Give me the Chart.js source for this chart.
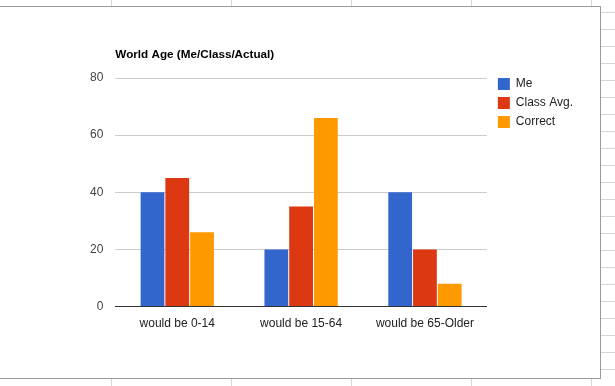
<!DOCTYPE html>
<html lang="en">
<head>
<meta charset="UTF-8">
<title>World Age (Me/Class/Actual)</title>
<script src="https://cdn.jsdelivr.net/npm/chart.js"></script>
<style>
    body {
        margin: 0;
        width: 615px;
        height: 386px;
        overflow: hidden;
        position: relative;
        background-color: #fff;
        /* spreadsheet column lines peeking out around the chart */
        background-image: repeating-linear-gradient(to right, transparent 0 111px, #d6d6d6 111px 112px, transparent 112px 120px);
    }

    .rows {
        position: absolute;
        left: 600px;
        top: 0;
        width: 15px;
        height: 386px;
        background-color: #fff;
        background-image: repeating-linear-gradient(to bottom, transparent -4px, transparent 12px, #d6d6d6 12px, #d6d6d6 13px);
    }

    .frame {
        position: absolute;
        left: -1px;
        top: 6px;
        width: 600px;
        height: 371px;
        border: 1px solid #9b9b9b;
        background: #fff;
    }

    .wrap {
        position: absolute;
        left: 0;
        top: 0;
        width: 600px;
        height: 378px;
    }
</style>
</head>
<body>
<div class="rows"></div>
<div class="frame"></div>
<div class="wrap"><canvas id="ageChart"></canvas></div>
<script>
    const categories = ["would be 0-14", "would be 15-64", "would be 65-Older"];
    const seriesNames = ["Me", "Class Avg.", "Correct"];
    const meValues = [40, 20, 40];
    const classValues = [45, 35, 20];
    const correctValues = [26, 66, 8];
    const yTicks = [0, 20, 40, 60, 80];

    Chart.defaults.font.family = 'Arial, "Liberation Sans", sans-serif';
    Chart.defaults.font.size = 12;

    // move the legend so it sits where the original put it
    const nudgeLegend = {
        id: "nudgeLegend",
        afterLayout(chart) {
            const lg = chart.legend;
            lg.left += 4; lg.right += 4;
            lg.top -= 7; lg.bottom -= 7;
        }
    };

    const ctx = document.getElementById("ageChart").getContext("2d");
    const ageChart = new Chart(ctx, {
        type: "bar",
        data: {
            labels: categories,
            datasets: [
                { label: seriesNames[0], data: meValues, backgroundColor: "#3366cc" },
                { label: seriesNames[1], data: classValues, backgroundColor: "#dc3912" },
                { label: seriesNames[2], data: correctValues, backgroundColor: "#ff9900" }
            ]
        },
        options: {
            responsive: true,
            maintainAspectRatio: false,
            animation: false,
            categoryPercentage: 0.6,
            barPercentage: 0.96,
            layout: { padding: { left: 78, right: 21, top: 40, bottom: 37 } },
            plugins: {
                tooltip: { enabled: false },
                title: {
                    display: true,
                    text: "World Age (Me/Class/Actual)",
                    align: "start",
                    fullSize: false,
                    color: "#000",
                    font: { size: 11.7, weight: "bold" },
                    padding: { top: 7.5, bottom: 16.5 }
                },
                legend: {
                    position: "right",
                    align: "start",
                    fullSize: false,
                    labels: { boxWidth: 12, boxHeight: 12, padding: 7, color: "#222" }
                }
            },
            scales: {
                x: {
                    grid: { display: false, drawTicks: false },
                    border: { color: "#333", width: 1 },
                    ticks: { color: "#222", padding: 10 }
                },
                y: {
                    min: 0,
                    max: 80,
                    afterBuildTicks: (axis) => { axis.ticks = yTicks.map(v => ({ value: v })); },
                    grid: { color: "#cccccc", drawTicks: false },
                    border: { display: false },
                    ticks: { color: "#444", padding: 12 }
                }
            }
        },
        plugins: [nudgeLegend]
    });
</script>
</body>
</html>
